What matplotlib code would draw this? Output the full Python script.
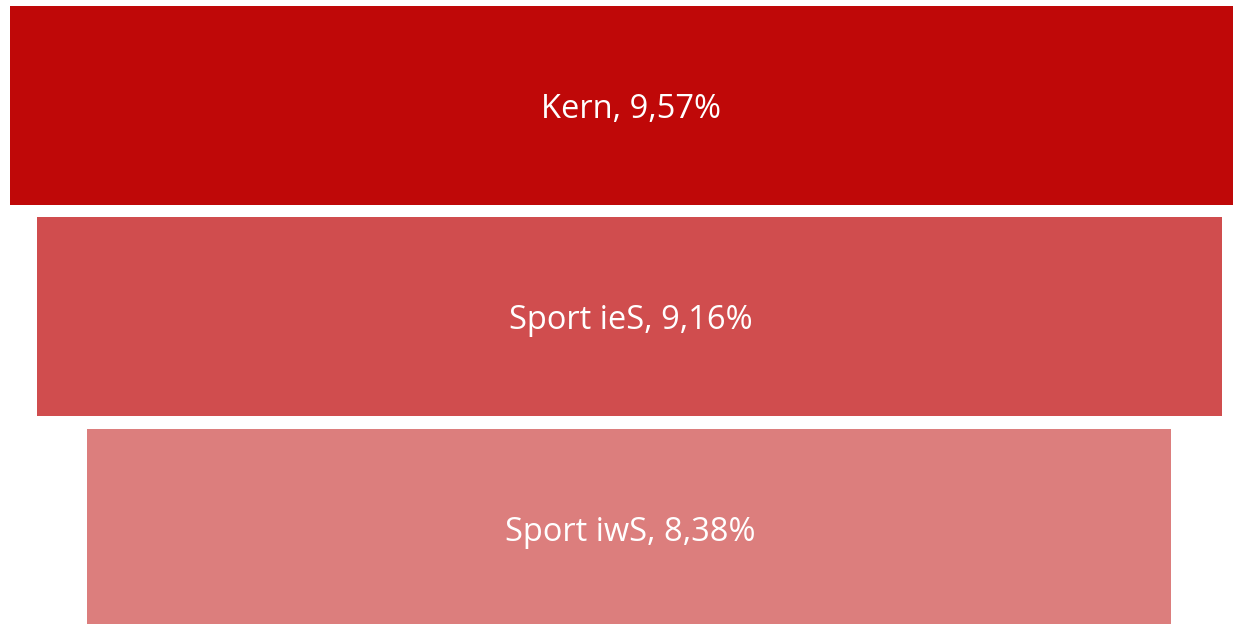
import matplotlib
matplotlib.use("Agg")
import matplotlib.pyplot as plt

categories = ["Kern", "Sport ieS", "Sport iwS"]
values = [9.57, 9.16, 8.38]
labels = ["Kern, 9,57%", "Sport ieS, 9,16%", "Sport iwS, 8,38%"]
colors = ["#BF0808", "#D04D4E", "#DC7E7D"]

fig = plt.figure(figsize=(12.33, 6.24), dpi=100)
ax = fig.add_axes([0, 0, 1, 1])
y = list(range(len(categories)))
ax.barh(y, values, left=[-v / 2 for v in values], height=0.941, color=colors)
for yi, lab in zip(y, labels):
    ax.text(0.01, yi + 0.018, lab, ha="center", va="center", color="white",
            fontsize=23.5, family=["Open Sans", "DejaVu Sans"])
ax.set_xlim(-4.863, 4.666)
ax.set_ylim(2.452, -0.499)
ax.axis("off")
fig.savefig("out.png", dpi=100, facecolor="white")
